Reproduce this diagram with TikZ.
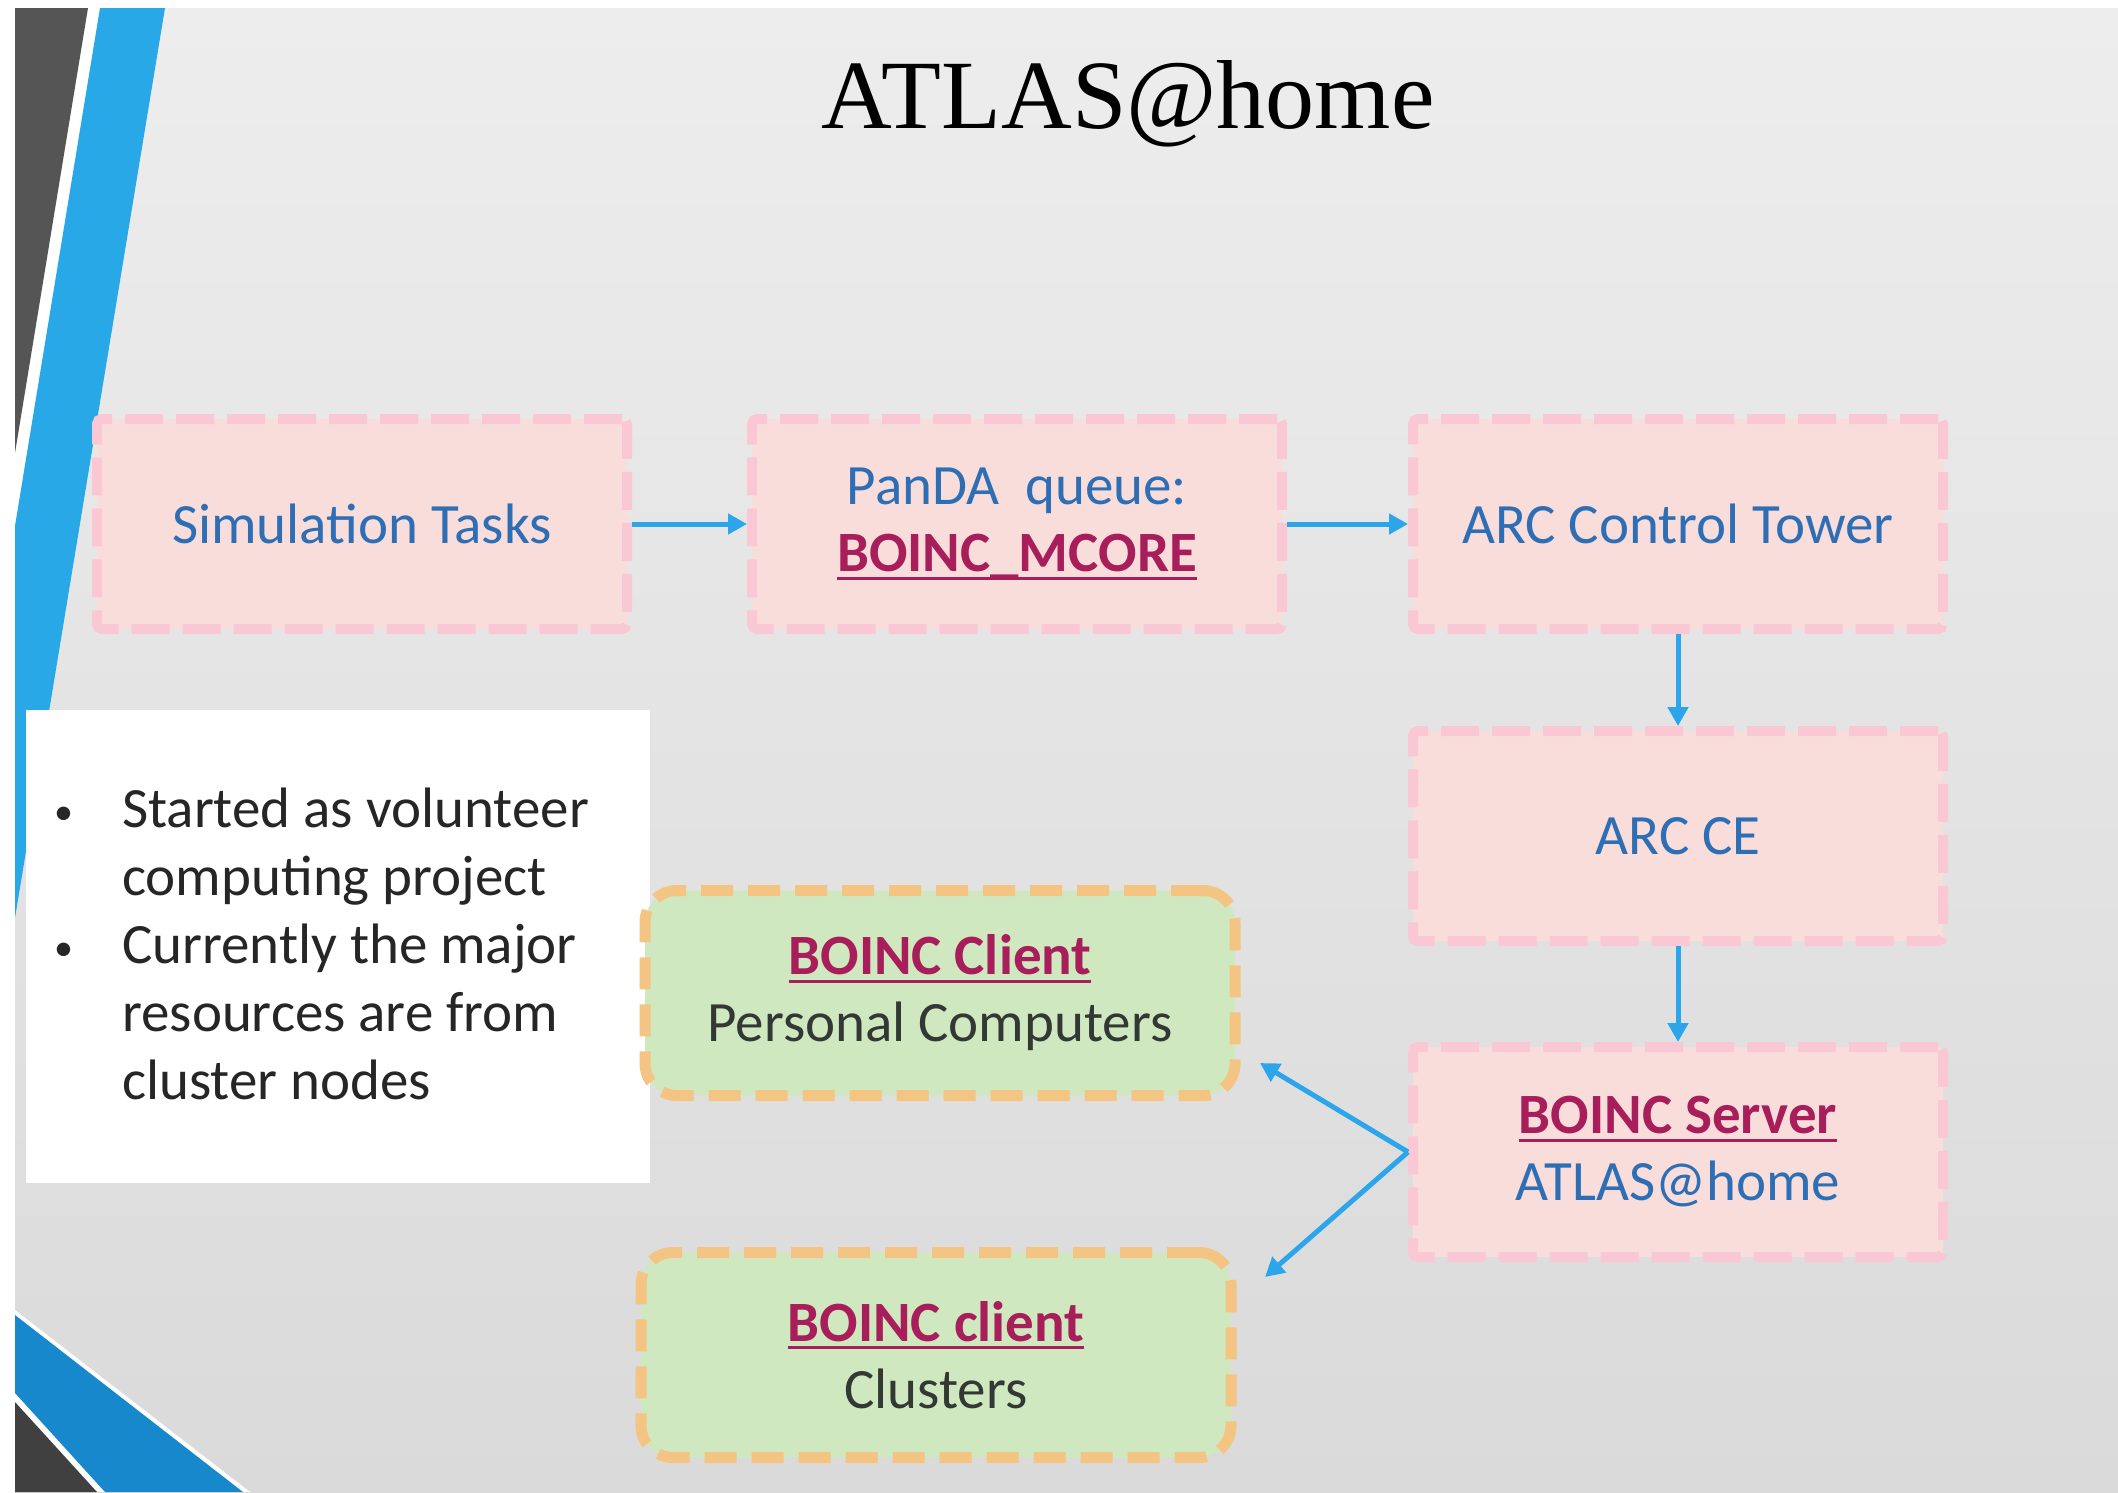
\documentclass[tikz,border=0pt]{standalone}
\usepackage{fontspec}
\setmainfont{Carlito}
\newfontfamily\titlefont{Liberation Serif}
\usetikzlibrary{arrows.meta}

\definecolor{pinkfill}{RGB}{248,221,219}
\definecolor{pinkline}{RGB}{250,200,212}
\definecolor{greenfill}{RGB}{208,232,192}
\definecolor{orangeline}{RGB}{244,196,130}
\definecolor{arrowblue}{RGB}{45,165,235}
\definecolor{textblue}{RGB}{46,110,180}
\definecolor{boincred}{RGB}{168,30,90}
\definecolor{darktext}{RGB}{50,56,52}
\definecolor{bullettext}{RGB}{38,38,38}
\definecolor{stripeblue}{RGB}{41,168,232}
\definecolor{stripeblue2}{RGB}{24,136,204}
\definecolor{stripedark}{RGB}{85,85,85}
\definecolor{stripedark2}{RGB}{64,64,64}
\definecolor{bgtop}{RGB}{237,237,237}
\definecolor{bgmid}{RGB}{242,242,242}
\definecolor{bgbot}{RGB}{218,218,218}

\newcommand\ulbar[1]{\setbox0\hbox{#1}\rlap{\copy0}\rule[-8pt]{\wd0}{3pt}}

\tikzset{
  pinkbox/.style={draw=pinkline, fill=pinkfill, line width=10pt,
    dash pattern=on 38pt off 13pt, rounded corners=5pt,
    minimum width=530pt, minimum height=210pt, inner sep=0pt,
    align=center, font=\fontsize{57}{67}\selectfont, text=textblue},
  greenbox/.style={draw=orangeline, fill=greenfill, line width=11pt,
    dash pattern=on 32pt off 15pt, rounded corners=32pt,
    minimum width=590pt, minimum height=205pt, inner sep=0pt,
    align=center, font=\fontsize{57}{67}\selectfont, text=darktext},
  flow/.style={draw=arrowblue, line width=5pt, -{Triangle[length=19pt,width=20pt]}},
  bul/.style={anchor=base west, inner sep=0pt, text=bullettext, font=\fontsize{57}{67}\selectfont}
}
\newcommand\bred[1]{{\color{boincred}\bfseries\ulbar{#1}}}
\newcommand\smallbul{\makebox[70pt][l]{\hspace{2pt}\raisebox{3pt}{\fontsize{38}{38}\selectfont\textbullet}}}

\begin{document}
\begin{tikzpicture}[x=1pt,y=-1pt]
\useasboundingbox (0,0) rectangle (2118,1492);
\fill[white] (0,0) rectangle (2118,1492);
\shade[top color=bgtop, middle color=bgmid, bottom color=bgbot] (15,8) rectangle (2118,1492);

% decorative stripes
\fill[white] (86,8) -- (102,8) -- (15,537) -- (15,445) -- cycle;
\fill[stripedark] (15,8) -- (88,8) -- (15,453) -- cycle;
\fill[stripeblue] (100,8) -- (165,8) -- (15,918) -- (15,526) -- cycle;
\fill[white] (15,1310) -- (250,1492) -- (92,1492) -- (15,1408) -- cycle;
\fill[stripeblue2] (15,1315) -- (243,1492) -- (105,1492) -- (15,1393) -- cycle;
\fill[stripedark2] (15,1402) -- (97,1492) -- (15,1492) -- cycle;

% title
\node[font=\titlefont\fontsize{98}{110}\selectfont, anchor=base, inner sep=0pt] (title) at (1128,128) {ATLAS@home};

% note box
\node[fill=white, minimum width=624pt, minimum height=473pt, inner sep=0pt, anchor=north west] (notes) at (26,710) {};
\node[bul] (b1) at (52,827) {\smallbul Started as volunteer};
\node[bul] (b2) at (122,895) {computing project};
\node[bul] (b3) at (52,963) {\smallbul Currently the major};
\node[bul] (b4) at (122,1031) {resources are from};
\node[bul] (b5) at (122,1099) {cluster nodes};

% flow boxes
\node[pinkbox] (sim) at (362,524) {Simulation Tasks};
\node[pinkbox] (panda) at (1017,524) {PanDA~~queue:\\\bred{BOINC\_MCORE}};
\node[pinkbox] (act) at (1678,524) {ARC Control Tower};
\node[pinkbox] (ace) at (1678,836) {ARC CE};
\node[pinkbox] (srv) at (1678,1152) {\bred{BOINC Server}\\ATLAS@home};
\node[greenbox] (pc) at (940,993) {\bred{BOINC Client}\\Personal Computers};
\node[greenbox] (cl) at (936,1355) {\bred{BOINC client}\\Clusters};

\coordinate (pctip) at (1260,1063);
\coordinate (cltip) at (1265,1277);

\draw[flow] (sim) -- (panda);
\draw[flow] (panda) -- (act);
\draw[flow] (act) -- (ace);
\draw[flow] (ace) -- (srv);
\draw[flow] (srv.west) -- (pctip);
\draw[flow] (srv.west) -- (cltip);
\end{tikzpicture}
\end{document}
